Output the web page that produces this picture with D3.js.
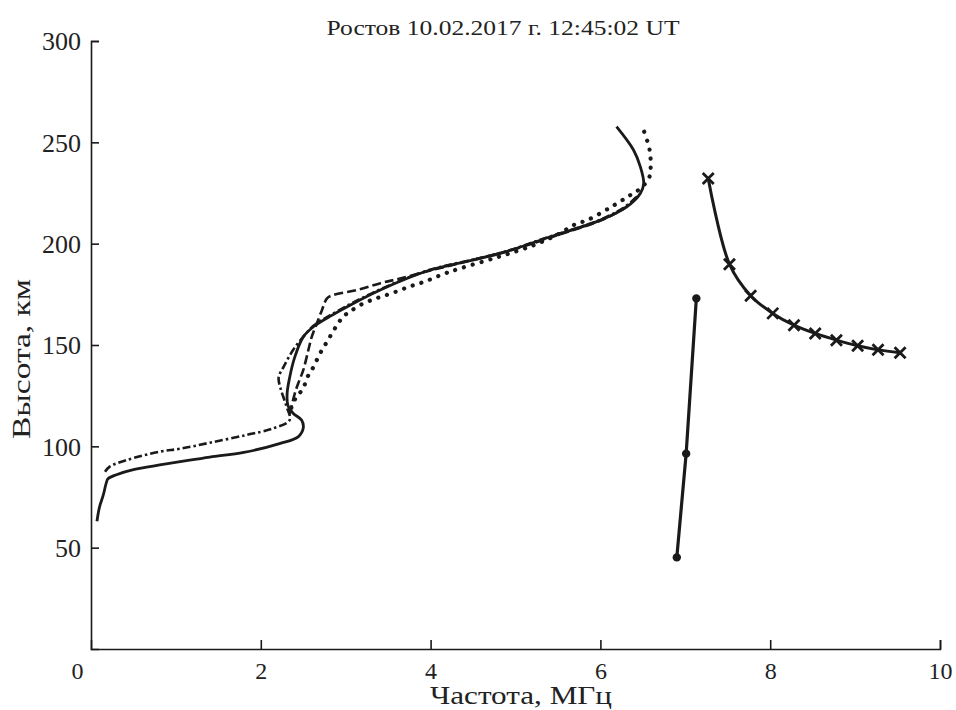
<!DOCTYPE html>
<html>
<head>
<meta charset="utf-8">
<script src="https://cdn.jsdelivr.net/npm/d3@7"></script>
<style>
  body { margin: 0; background: #fff; }
  svg text { font-family: "Liberation Serif", "DejaVu Serif", serif; fill: #222; }
</style>
</head>
<body>
<div id="chart"></div>
<script>
const width = 956;
const height = 710;

// profiles: [frequency MHz, height km]
const solidProfile = [[0.07,63],[0.10,70],[0.145,76],[0.18,82],[0.2,84],[0.30,86],[0.5,88.5],[0.81,90.8],[1.05,92.4],[1.40,94.7],[1.80,97],[2.23,101.5],[2.44,104.7],[2.50,109],[2.48,113],[2.38,116.3],[2.32,120],[2.31,126],[2.34,134],[2.40,144],[2.50,154],[2.62,159],[2.81,164],[3.09,170.5],[3.40,177],[3.72,182.8],[4.0,187],[4.23,189.4],[4.82,195.2],[5.41,203.4],[6.0,211.6],[6.31,218.2],[6.47,224.8],[6.51,229.7],[6.47,238],[6.39,246.2],[6.19,257.7]];
const dashDotProfile = [[0.165,87.5],[0.22,90],[0.42,93.2],[0.81,97.4],[1.05,98.8],[1.40,101.8],[1.83,105.6],[2.15,108.9],[2.34,113],[2.30,120],[2.23,129],[2.21,134],[2.27,139.3],[2.38,147.5],[2.50,154],[2.62,159.5],[2.81,164.5],[3.09,171],[3.40,177.3],[3.72,183],[4.0,187.2],[4.82,195.4],[5.41,203.6],[6.0,211.8],[6.3,218.5],[6.42,223]];
const dashedProfile = [[2.34,116],[2.40,126],[2.44,131],[2.50,137.6],[2.56,147.5],[2.60,154],[2.66,160.6],[2.72,167.2],[2.78,173],[2.85,174.6],[3.13,177.1],[3.40,180.4],[3.64,182.8],[4.0,186.8],[4.5,192],[5.0,197.4],[5.5,204.3],[6.0,211.4],[6.3,218],[6.45,224]];
const dottedProfile = [[2.36,119],[2.42,124.5],[2.50,128.5],[2.54,133.5],[2.60,137.6],[2.66,142.6],[2.72,147.5],[2.78,151.6],[2.85,156.6],[2.91,160.6],[2.97,164],[3.05,166.4],[3.17,169.7],[3.34,172.7],[3.54,175.5],[3.75,178.8],[3.95,181.6],[4.15,185],[4.35,187.8],[4.8,193.5],[5.2,199],[5.52,205],[5.68,209.1],[5.86,211.9],[6.13,218.2],[6.35,223.9],[6.47,227.2],[6.57,232.2],[6.59,236.3],[6.58,246.2],[6.50,257]];
const circlePoints = [[6.90,45.2],[7.01,96.4],[7.13,173]];
const crossPoints = [[7.27,232.2],[7.52,189.9],[7.77,174.3],[8.03,165.6],[8.28,159.8],[8.53,155.7],[8.78,152.4],[9.03,149.6],[9.27,147.6],[9.53,146.2]];

const xTicks = [0, 2, 4, 6, 8, 10];
const yTicks = [50, 100, 150, 200, 250, 300];

const titleText = "Ростов 10.02.2017 г. 12:45:02 UT";
const xLabel = "Частота, МГц";
const yLabel = "Высота, км";

const svg = d3.select("#chart").append("svg")
    .attr("width", width).attr("height", height);

const x = d3.scaleLinear().domain([0, 10]).range([91, 940]);
const y = d3.scaleLinear().domain([0, 300]).range([649, 41]);

const ink = "#1a1a1a";
const serif = '"Liberation Serif", "DejaVu Serif", serif';

// axes, ticks point inward
const xAxis = svg.append("g")
    .attr("transform", `translate(0,${y(0)})`)
    .call(d3.axisBottom(x).tickValues(xTicks).tickSize(-9).tickPadding(13).tickFormat(d3.format("d")));
const yAxis = svg.append("g")
    .attr("transform", `translate(${x(0)},0)`)
    .call(d3.axisLeft(y).tickValues(yTicks).tickSize(-8).tickPadding(10).tickFormat(d3.format("d")));

[xAxis, yAxis].forEach(a => {
    a.attr("font-family", serif).attr("font-size", null);
    a.select(".domain").attr("stroke", ink).attr("stroke-width", 1.6);
    a.selectAll(".tick line").attr("stroke", ink).attr("stroke-width", 1.6);
    a.selectAll(".tick text").attr("fill", "#222").attr("font-family", serif);
});
xAxis.selectAll(".tick text").attr("font-size", 24).attr("dy", "0.71em");
yAxis.selectAll(".tick text").attr("font-size", 26).attr("dy", "0.34em");
// origin label sits a bit left of the corner
xAxis.selectAll(".tick").filter(d => d === 0).select("text").attr("x", -14);
xAxis.selectAll(".tick").filter(d => d === 0).select("line").remove();

svg.append("text")
    .attr("x", 503).attr("y", 35)
    .attr("text-anchor", "middle")
    .attr("font-size", 22)
    .attr("textLength", 353).attr("lengthAdjust", "spacingAndGlyphs")
    .text(titleText);

svg.append("text")
    .attr("x", 521).attr("y", 704)
    .attr("text-anchor", "middle")
    .attr("font-size", 26)
    .attr("textLength", 182).attr("lengthAdjust", "spacingAndGlyphs")
    .text(xLabel);

svg.append("text")
    .attr("transform", "translate(30,359) rotate(-90)")
    .attr("text-anchor", "middle")
    .attr("font-size", 26)
    .attr("textLength", 160).attr("lengthAdjust", "spacingAndGlyphs")
    .text(yLabel);

const line = d3.line()
    .x(d => x(d[0])).y(d => y(d[1]))
    .curve(d3.curveCatmullRom.alpha(0.5));
const straight = d3.line().x(d => x(d[0])).y(d => y(d[1]));

const plot = svg.append("g").attr("fill", "none");

plot.append("path").datum(dottedProfile)
    .attr("d", line)
    .attr("stroke", ink).attr("stroke-width", 4.2)
    .attr("stroke-linecap", "round")
    .attr("stroke-dasharray", "0.1 9");

plot.append("path").datum(dashedProfile)
    .attr("d", line)
    .attr("stroke", ink).attr("stroke-width", 2.6)
    .attr("stroke-dasharray", "9 4");

plot.append("path").datum(dashDotProfile)
    .attr("d", line)
    .attr("stroke", ink).attr("stroke-width", 2.6)
    .attr("stroke-dasharray", "8 3 2.5 3");

plot.append("path").datum(solidProfile)
    .attr("d", line)
    .attr("stroke", ink).attr("stroke-width", 2.8)
    .attr("stroke-linejoin", "round");

plot.append("path").datum(circlePoints)
    .attr("d", straight)
    .attr("stroke", ink).attr("stroke-width", 3.2);

plot.selectAll(".dot").data(circlePoints).enter().append("circle")
    .attr("class", "dot")
    .attr("cx", d => x(d[0])).attr("cy", d => y(d[1]))
    .attr("r", 4.2).attr("fill", ink);

plot.append("path").datum(crossPoints)
    .attr("d", line)
    .attr("stroke", ink).attr("stroke-width", 3);

plot.selectAll(".cross").data(crossPoints).enter().append("path")
    .attr("class", "cross")
    .attr("d", d => {
        const s = 5.5;
        const cx = x(d[0]), cy = y(d[1]);
        return `M${cx - s},${cy - s}L${cx + s},${cy + s}M${cx - s},${cy + s}L${cx + s},${cy - s}`;
    })
    .attr("stroke", ink).attr("stroke-width", 2.8);
</script>
</body>
</html>
